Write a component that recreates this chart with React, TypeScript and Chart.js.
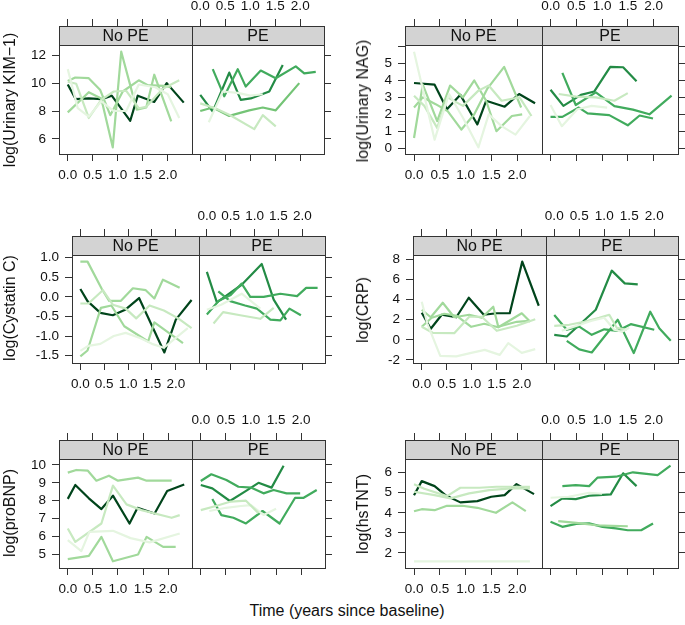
import React, { useEffect, useRef } from "react";
import { Chart, registerables } from "chart.js";

Chart.register(...registerables);

type Pt = [number, number];

// ---------- shared axis data ----------
const X_MIN = -0.175;
const X_MAX = 2.475;
const X_TICKS = [0, 0.5, 1, 1.5, 2];
const X_TICK_LABELS = ["0.0", "0.5", "1.0", "1.5", "2.0"];
const GROUPS = ["No PE", "PE"];
const X_TITLE = "Time (years since baseline)";

// ---------- colours ----------
const G2 = "#E5F5E0";
const G3 = "#C7E9C0";
const G4 = "#A1D99B";
const G5 = "#74C476";
const G6 = "#41AB5D";
const G7 = "#238B45";
const G9 = "#00441B";

// ---------- log(Urinary KIM-1) ----------
const KIM_TICKS = [6, 8, 10, 12];
const KIM_LABELS = ["6", "8", "10", "12"];
const kimNo1: Pt[] = [[0, 11.0], [0.2, 8.2], [0.42, 7.6], [0.67, 8.7], [0.92, 8.0], [1.17, 8.0], [1.42, 9.9], [1.75, 9.7], [2.0, 9.2], [2.23, 7.5]];
const kimNo2: Pt[] = [[0, 10.1], [0.17, 9.95], [0.42, 7.5], [0.67, 8.8], [0.92, 9.4], [1.17, 9.45], [1.42, 8.2], [1.57, 8.3], [1.9, 9.6], [2.23, 10.2]];
const kimNo3: Pt[] = [[0, 10.15], [0.15, 10.4], [0.42, 10.35], [0.65, 9.5], [0.85, 7.7], [1.1, 9.4], [1.42, 10.2], [1.6, 9.85], [1.92, 9.8], [2.07, 9.7]];
const kimNo4: Pt[] = [[0, 7.9], [0.42, 9.35], [0.67, 8.9], [0.9, 5.4], [1.07, 12.25], [1.38, 8.1], [1.57, 8.25], [1.73, 10.6], [2.07, 7.25]];
const kimNo5: Pt[] = [[0, 9.9], [0.16, 8.85], [0.42, 8.9], [0.68, 8.85], [0.88, 9.1], [1.25, 7.3], [1.4, 9.1], [1.73, 8.65], [1.98, 10.0], [2.32, 8.6]];
const kimPe1: Pt[] = [[0.17, 7.2], [0.45, 9.4], [0.75, 9.3], [1.0, 9.1], [1.25, 9.2]];
const kimPe2: Pt[] = [[0, 8.55], [0.3, 8.2], [0.6, 7.7], [1.08, 6.7], [1.25, 7.7], [1.51, 6.9]];
const kimPe3: Pt[] = [[0, 8.0], [0.25, 8.25], [0.58, 7.65], [0.98, 8.05], [1.25, 8.25], [1.51, 8.05], [1.98, 10.0]];
const kimPe4: Pt[] = [[0.25, 11.0], [0.48, 9.05], [0.75, 11.0], [0.91, 9.75], [1.21, 10.9], [1.51, 10.35], [1.91, 11.2], [2.08, 10.7], [2.31, 10.8]];
const kimPe5: Pt[] = [[0, 9.15], [0.25, 7.95], [0.58, 10.75], [0.81, 8.8], [1.01, 8.9], [1.38, 9.4], [1.65, 11.3]];

// ---------- log(Urinary NAG) ----------
const NAG_TICKS = [0, 1, 2, 3, 4, 5, 6];
const NAG_LABELS = ["0", "1", "2", "3", "4", "5", ""];
const nagNo1: Pt[] = [[0, 5.7], [0.4, 0.5], [0.68, 3.2], [0.95, 1.8], [1.25, 0.05], [1.45, 2.0], [1.7, 1.3], [1.97, 0.8], [2.25, 1.9]];
const nagNo2: Pt[] = [[0, 3.1], [0.2, 2.5], [0.45, 1.2], [0.65, 3.0], [0.95, 2.5], [1.25, 3.4], [1.45, 3.7], [1.7, 2.8], [2.05, 3.0], [2.28, 1.9]];
const nagNo3: Pt[] = [[0, 2.4], [0.17, 3.0], [0.42, 2.6], [0.65, 2.2], [0.92, 1.1], [1.17, 2.0], [1.42, 3.5], [1.75, 4.8], [2.08, 2.4]];
const nagNo4: Pt[] = [[0, 0.6], [0.17, 3.75], [0.45, 1.6], [0.7, 3.7], [0.95, 3.0], [1.17, 4.0], [1.4, 2.8], [1.6, 1.0], [1.9, 1.9], [2.1, 2.0]];
const nagNo5: Pt[] = [[0, 3.85], [0.4, 3.75], [0.64, 2.3], [0.9, 3.15], [1.23, 1.4], [1.4, 2.8], [1.76, 2.45], [2.04, 3.2], [2.35, 2.65]];
const nagPe1: Pt[] = [[0, 2.55], [0.22, 1.3], [0.52, 2.3], [0.8, 2.5], [1.1, 2.4]];
const nagPe2: Pt[] = [[0.16, 3.2], [0.5, 3.05], [0.88, 3.0], [1.24, 2.8], [1.5, 3.25]];
const nagPe3: Pt[] = [[0, 1.85], [0.23, 1.85], [0.55, 2.4], [0.72, 2.05], [1.14, 1.95], [1.5, 1.35], [1.73, 1.93], [1.99, 1.75]];
const nagPe4: Pt[] = [[0.23, 4.45], [0.49, 2.55], [0.88, 3.3], [1.24, 2.48], [1.6, 2.28], [1.92, 2.0], [2.35, 3.1]];
const nagPe5: Pt[] = [[0, 3.45], [0.25, 2.5], [0.59, 3.15], [0.85, 3.35], [1.16, 4.8], [1.41, 4.78], [1.67, 3.95]];

// ---------- log(Cystatin C) ----------
const CYS_TICKS = [-1.5, -1, -0.5, 0, 0.5, 1];
const CYS_LABELS = ["-1.5", "-1.0", "-0.5", "0.0", "0.5", "1.0"];
const cysNo1: Pt[] = [[0, -1.38], [0.17, -1.25], [0.42, -1.2], [0.7, -1.0], [0.95, -0.92], [1.25, -1.05], [1.5, -1.2], [1.75, -1.3], [2.0, -1.05], [2.25, -0.8]];
const cysNo2: Pt[] = [[0, -0.17], [0.17, -0.17], [0.47, 0.17], [0.68, -0.2], [0.95, -0.3], [1.17, -0.55], [1.45, -0.22], [1.75, -0.35], [2.05, -0.55], [2.33, -0.8]];
const cysNo3: Pt[] = [[0, -1.52], [0.15, -1.37], [0.43, -0.28], [0.65, -0.22], [0.92, -0.75], [1.42, -1.14], [1.55, -0.65], [2.15, -1.18]];
const cysNo4: Pt[] = [[0, 0.9], [0.15, 0.9], [0.45, 0.2], [0.6, -0.1], [0.85, -0.1], [1.1, 0.22], [1.37, 0.17], [1.55, -0.04], [1.73, 0.44], [2.08, 0.23]];
const cysNo5: Pt[] = [[0, 0.2], [0.15, -0.11], [0.42, -0.41], [0.68, -0.47], [0.95, -0.32], [1.23, -0.03], [1.76, -1.42], [2.0, -0.58], [2.33, -0.08]];
const cysPe1: Pt[] = [[0.14, -0.68], [0.34, -0.39], [0.7, -0.47], [1.12, -0.56], [1.4, -0.28]];
const cysPe2: Pt[] = [[0, -0.33], [0.3, -0.2], [0.73, 0.08], [1.12, -0.3]];
const cysPe3: Pt[] = [[0.24, 0.14], [0.49, -0.11], [0.8, -0.22], [1.05, -0.3], [1.33, -0.58], [1.54, -0.6], [1.73, -0.3], [1.97, -0.47]];
const cysPe4: Pt[] = [[0, -0.45], [0.25, -0.1], [0.5, 0.05], [0.73, 0.34], [0.91, 0.0], [1.19, 0.0], [1.54, 0.08], [1.89, 0.02], [2.08, 0.23], [2.32, 0.23]];
const cysPe5: Pt[] = [[0, 0.64], [0.21, -0.14], [0.73, 0.31], [1.15, 0.84], [1.4, -0.07], [1.66, -0.58]];

// ---------- log(CRP) ----------
const CRP_TICKS = [-2, 0, 2, 4, 6, 8];
const CRP_LABELS = ["-2", "0", "2", "4", "6", "8"];
const crpNo1: Pt[] = [[0, 3.8], [0.11, 1.65], [0.37, -1.6], [0.69, -1.65], [0.99, -1.3], [1.26, -1.0], [1.56, -1.5], [1.73, -0.33], [2.0, -1.3], [2.27, -0.93]];
const crpNo2: Pt[] = [[0, 1.3], [0.22, 0.7], [0.65, 0.66], [0.95, 2.3], [1.2, 2.3], [1.5, 0.9], [1.9, 1.4], [2.27, 2.05]];
const crpNo3: Pt[] = [[0, 1.3], [0.2, 2.2], [0.45, 2.6], [0.7, 2.4], [0.99, 1.3], [1.25, 1.6], [1.53, 1.25], [1.75, 1.9], [2.0, 2.65], [2.17, 1.8]];
const crpNo4: Pt[] = [[0, 3.0], [0.18, 2.25], [0.42, 3.7], [0.65, 2.25], [0.95, 2.5], [1.2, 2.2], [1.43, 3.3], [1.53, 1.3], [1.9, 1.8], [2.15, 1.9]];
const crpNo5: Pt[] = [[0, 2.7], [0.18, 1.1], [0.4, 2.5], [0.69, 2.25], [0.94, 4.2], [1.24, 2.5], [1.5, 2.65], [1.76, 2.65], [2.01, 7.8], [2.34, 3.4]];
const crpPe1: Pt[] = [[0.15, 0.9], [0.45, 1.4], [0.75, 1.9], [1.0, 2.2], [1.2, 1.0], [1.35, 0.8], [1.5, 1.2]];
const crpPe2: Pt[] = [[0, 1.4], [0.3, 1.5], [0.6, 1.8], [0.9, 2.2], [1.1, 2.5], [1.25, 1.2], [1.45, 1.0]];
const crpPe3: Pt[] = [[0.25, -0.1], [0.5, -0.95], [0.75, -1.26], [1.27, 2.0], [1.59, -1.32], [1.92, 2.8], [2.1, 1.16], [2.33, -0.1]];
const crpPe4: Pt[] = [[0, 2.48], [0.25, 1.0], [0.5, 1.32], [0.75, 0.5], [1.0, 1.05], [1.27, 0.9], [1.53, 1.56], [2.0, 1.0]];
const crpPe5: Pt[] = [[0, 0.5], [0.25, 0.33], [0.57, 1.8], [0.83, 3.0], [1.15, 6.9], [1.41, 5.63], [1.67, 5.53]];

// ---------- log(proBNP) ----------
const BNP_TICKS = [5, 6, 7, 8, 9, 10];
const BNP_LABELS = ["5", "6", "7", "8", "9", "10"];
const bnpNo1: Pt[] = [[0, 5.79], [0.27, 5.17], [0.43, 6.25], [0.9, 6.31], [1.25, 5.9], [1.63, 5.66], [2.23, 6.16]];
const bnpNo2: Pt[] = [[0, 6.44], [0.15, 5.69], [0.67, 6.72], [0.9, 8.84], [1.17, 7.79], [1.47, 7.47], [2.07, 7.04], [2.23, 7.19]];
const bnpNo3: Pt[] = [[0, 4.72], [0.42, 4.9], [0.67, 5.97], [0.9, 4.6], [1.4, 4.98], [1.57, 5.97], [1.9, 5.41], [2.15, 5.41]];
const bnpNo4: Pt[] = [[0, 9.57], [0.17, 9.72], [0.4, 9.68], [0.57, 9.12], [0.82, 9.4], [1.0, 9.12], [1.4, 9.29], [1.57, 9.12], [2.07, 9.12]];
const bnpNo5: Pt[] = [[0, 8.1], [0.15, 8.88], [0.42, 8.13], [0.67, 7.53], [0.9, 8.28], [1.23, 6.72], [1.39, 7.6], [1.73, 7.28], [1.98, 8.54], [2.32, 8.91]];
const bnpPe1: Pt[] = [[0, 7.47], [0.3, 7.7], [0.6, 7.95], [0.9, 8.0], [1.15, 7.3]];
const bnpPe2: Pt[] = [[0.17, 7.42], [0.5, 7.6], [0.8, 7.7], [1.0, 7.75], [1.25, 7.2], [1.5, 7.55]];
const bnpPe3: Pt[] = [[0.23, 8.09], [0.41, 7.19], [0.65, 7.04], [0.9, 6.72], [1.23, 7.42], [1.57, 6.72], [1.88, 8.16], [2.05, 8.16], [2.31, 8.6]];
const bnpPe4: Pt[] = [[0, 9.1], [0.21, 9.48], [0.51, 9.16], [0.75, 8.78], [1.01, 8.73], [1.25, 8.41], [1.45, 8.6], [1.71, 8.41], [1.98, 8.41]];
const bnpPe5: Pt[] = [[0, 8.88], [0.23, 8.69], [0.58, 7.98], [0.91, 8.56], [1.15, 9.0], [1.41, 8.73], [1.65, 9.96]];

// ---------- log(hsTNT) ----------
const TNT_TICKS = [2, 3, 4, 5, 6];
const TNT_LABELS = ["2", "3", "4", "5", "6"];
const tntNo1: Pt[] = [[0, 1.58], [0.5, 1.58], [1.0, 1.58], [1.5, 1.58], [2.0, 1.58], [2.25, 1.58]];
const tntNo2: Pt[] = [[0, 5.42], [0.2, 5.2], [0.64, 4.83], [0.9, 5.25], [1.27, 5.25], [1.6, 5.3], [2.25, 5.3]];
const tntNo3: Pt[] = [[0, 5.05], [0.4, 4.88], [0.71, 4.72], [1.07, 4.97], [1.46, 5.13], [1.89, 5.22], [2.25, 5.22]];
const tntNo4: Pt[] = [[0, 4.08], [0.15, 4.18], [0.4, 4.13], [0.64, 4.35], [0.94, 4.35], [1.23, 4.25], [1.59, 4.0], [1.91, 4.52], [2.17, 4.08]];
const tntNo5: Pt[] = [[0, 4.88], [0.15, 5.58], [0.4, 5.33], [0.61, 4.88], [0.9, 4.52], [1.23, 4.58], [1.5, 4.8], [1.76, 4.88], [1.99, 5.43], [2.33, 4.93]];
const tntPe1: Pt[] = [[0, 4.75], [0.35, 4.8], [0.75, 5.0], [1.0, 4.95]];
const tntPe2: Pt[] = [[0.15, 3.58], [0.5, 3.5], [0.88, 3.38], [1.2, 3.35], [1.5, 3.33]];
const tntPe3: Pt[] = [[0, 3.55], [0.23, 3.3], [0.5, 3.45], [0.75, 3.47], [1.01, 3.3], [1.27, 3.22], [1.5, 3.13], [1.76, 3.13], [1.99, 3.47]];
const tntPe4: Pt[] = [[0.23, 5.33], [0.49, 5.38], [0.75, 5.33], [0.91, 5.75], [1.27, 5.8], [1.6, 6.02], [2.08, 5.88], [2.33, 6.35]];
const tntPe5: Pt[] = [[0, 4.33], [0.23, 4.72], [0.49, 4.68], [0.75, 4.85], [0.94, 4.88], [1.17, 4.92], [1.41, 5.97], [1.67, 5.33]];

// ---------- layout / style ----------
const FONT = '"Liberation Sans", Arial, Helvetica, sans-serif';
const FRAME = "#333333";
const STRIP_BG = "#D3D3D3";
const STRIP = 19;
const AX_L = 45;
const AX_R = 7;
const AX_T = 28;
const AX_B = 32;
const TICK_LEN = 7;

type Series = { g: number; color: string; pts: Pt[] };
type PanelDef = {
  title: string;
  yTicks: number[];
  yLabels: string[];
  series: Series[];
  box: { l: number; t: number; r: number; b: number };
  titlePos: { x: number; y: number };
};

const PANELS: PanelDef[] = [
  {
    title: "log(Urinary KIM\u22121)", yTicks: KIM_TICKS, yLabels: KIM_LABELS,
    series: [
      { g: 0, color: G2, pts: kimNo1 }, { g: 0, color: G3, pts: kimNo2 }, { g: 0, color: G4, pts: kimNo3 },
      { g: 0, color: G4, pts: kimNo4 }, { g: 0, color: G9, pts: kimNo5 },
      { g: 1, color: G2, pts: kimPe1 }, { g: 1, color: G3, pts: kimPe2 }, { g: 1, color: G5, pts: kimPe3 },
      { g: 1, color: G6, pts: kimPe4 }, { g: 1, color: G7, pts: kimPe5 },
    ],
    box: { l: 59, t: 26, r: 324, b: 154 }, titlePos: { x: 10, y: 100 },
  },
  {
    title: "log(Urinary NAG)", yTicks: NAG_TICKS, yLabels: NAG_LABELS,
    series: [
      { g: 0, color: G2, pts: nagNo1 }, { g: 0, color: G3, pts: nagNo2 }, { g: 0, color: G4, pts: nagNo3 },
      { g: 0, color: G4, pts: nagNo4 }, { g: 0, color: G9, pts: nagNo5 },
      { g: 1, color: G2, pts: nagPe1 }, { g: 1, color: G3, pts: nagPe2 }, { g: 1, color: G6, pts: nagPe3 },
      { g: 1, color: G6, pts: nagPe4 }, { g: 1, color: G7, pts: nagPe5 },
    ],
    box: { l: 405, t: 26, r: 678, b: 154 }, titlePos: { x: 363, y: 101 },
  },
  {
    title: "log(Cystatin C)", yTicks: CYS_TICKS, yLabels: CYS_LABELS,
    series: [
      { g: 0, color: G2, pts: cysNo1 }, { g: 0, color: G3, pts: cysNo2 }, { g: 0, color: G4, pts: cysNo3 },
      { g: 0, color: G4, pts: cysNo4 }, { g: 0, color: G9, pts: cysNo5 },
      { g: 1, color: G3, pts: cysPe1 }, { g: 1, color: G2, pts: cysPe2 }, { g: 1, color: G6, pts: cysPe3 },
      { g: 1, color: G6, pts: cysPe4 }, { g: 1, color: G7, pts: cysPe5 },
    ],
    box: { l: 72, t: 236, r: 325, b: 363 }, titlePos: { x: 10, y: 308 },
  },
  {
    title: "log(CRP)", yTicks: CRP_TICKS, yLabels: CRP_LABELS,
    series: [
      { g: 0, color: G2, pts: crpNo1 }, { g: 0, color: G3, pts: crpNo2 }, { g: 0, color: G4, pts: crpNo3 },
      { g: 0, color: G4, pts: crpNo4 }, { g: 0, color: G9, pts: crpNo5 },
      { g: 1, color: G2, pts: crpPe1 }, { g: 1, color: G3, pts: crpPe2 }, { g: 1, color: G6, pts: crpPe3 },
      { g: 1, color: G6, pts: crpPe4 }, { g: 1, color: G7, pts: crpPe5 },
    ],
    box: { l: 413, t: 236, r: 678, b: 363 }, titlePos: { x: 363, y: 310 },
  },
  {
    title: "log(proBNP)", yTicks: BNP_TICKS, yLabels: BNP_LABELS,
    series: [
      { g: 0, color: G2, pts: bnpNo1 }, { g: 0, color: G3, pts: bnpNo2 }, { g: 0, color: G4, pts: bnpNo3 },
      { g: 0, color: G4, pts: bnpNo4 }, { g: 0, color: G9, pts: bnpNo5 },
      { g: 1, color: G3, pts: bnpPe1 }, { g: 1, color: G2, pts: bnpPe2 }, { g: 1, color: G6, pts: bnpPe3 },
      { g: 1, color: G6, pts: bnpPe4 }, { g: 1, color: G7, pts: bnpPe5 },
    ],
    box: { l: 59, t: 440, r: 325, b: 568 }, titlePos: { x: 10, y: 513 },
  },
  {
    title: "log(hsTNT)", yTicks: TNT_TICKS, yLabels: TNT_LABELS,
    series: [
      { g: 0, color: G2, pts: tntNo1 }, { g: 0, color: G3, pts: tntNo2 }, { g: 0, color: G3, pts: tntNo3 },
      { g: 0, color: G4, pts: tntNo4 }, { g: 0, color: G9, pts: tntNo5 },
      { g: 1, color: G2, pts: tntPe1 }, { g: 1, color: G4, pts: tntPe2 }, { g: 1, color: G6, pts: tntPe3 },
      { g: 1, color: G6, pts: tntPe4 }, { g: 1, color: G7, pts: tntPe5 },
    ],
    box: { l: 405, t: 440, r: 678, b: 568 }, titlePos: { x: 363, y: 514 },
  },
];

const SPAN = X_MAX - X_MIN;
const X_TICK_VALUES = [...X_TICKS, ...X_TICKS.map((v) => v + SPAN)];

function xLabel(v: number, right: boolean): string {
  const idxL = X_TICKS.findIndex((t) => Math.abs(t - v) < 1e-6);
  const idxR = X_TICKS.findIndex((t) => Math.abs(t + SPAN - v) < 1e-6);
  if (!right && idxL >= 0) return X_TICK_LABELS[idxL];
  if (right && idxR >= 0) return X_TICK_LABELS[idxR];
  return "";
}

const stripPlugin = {
  id: "latticeStrip",
  beforeDraw(chart: any) {
    const { ctx, chartArea } = chart;
    const { left, right, top } = chartArea;
    ctx.save();
    ctx.fillStyle = STRIP_BG;
    ctx.fillRect(left, top, right - left, STRIP);
    ctx.restore();
  },
  afterDraw(chart: any) {
    const { ctx, chartArea } = chart;
    const { left, right, top, bottom } = chartArea;
    const mid = Math.round(chart.scales.x.getPixelForValue(X_MAX));
    ctx.save();
    ctx.strokeStyle = FRAME;
    ctx.lineWidth = 1;
    ctx.beginPath();
    ctx.moveTo(left, top + STRIP + 0.5);
    ctx.lineTo(right, top + STRIP + 0.5);
    ctx.moveTo(mid + 0.5, top);
    ctx.lineTo(mid + 0.5, bottom);
    ctx.stroke();
    ctx.fillStyle = "#111";
    ctx.font = `16px ${FONT}`;
    ctx.textAlign = "center";
    ctx.textBaseline = "middle";
    ctx.fillText(GROUPS[0], (left + mid) / 2, top + STRIP / 2 + 1);
    ctx.fillText(GROUPS[1], (mid + right) / 2, top + STRIP / 2 + 1);
    ctx.restore();
  },
};

function Panel({ p }: { p: PanelDef }) {
  const ref = useRef<HTMLCanvasElement>(null);
  const W = p.box.r - p.box.l + AX_L + AX_R;
  const H = p.box.b - p.box.t + AX_T + AX_B;

  useEffect(() => {
    if (!ref.current) return;
    const ys = p.series.flatMap((s) => s.pts.map((d) => d[1]));
    const lo = Math.min(...ys);
    const hi = Math.max(...ys);
    const rng = hi - lo;
    const yMin = lo - 0.07 * rng;
    const yMaxData = hi + 0.07 * rng;
    const plotH = p.box.b - p.box.t - STRIP;
    const yMax = yMaxData + (STRIP * (yMaxData - yMin)) / plotH;

    const tickFont = { family: FONT, size: 13.5 };
    const gridOpts = { drawOnChartArea: false, drawTicks: true, tickLength: TICK_LEN, color: FRAME, lineWidth: 1 };
    const borderOpts = { display: true, color: FRAME, width: 1 };

    const chart = new Chart(ref.current, {
      type: "line",
      data: {
        datasets: p.series.map((s) => ({
          data: s.pts.map(([x, y]) => ({ x: x + (s.g === 1 ? SPAN : 0), y })),
          borderColor: s.color,
          backgroundColor: s.color,
          borderWidth: 2.2,
          pointRadius: 0,
          pointHoverRadius: 0,
          fill: false,
          tension: 0,
          borderJoinStyle: "round",
        })),
      },
      options: {
        responsive: false,
        animation: false,
        events: [],
        devicePixelRatio: 1,
        layout: { padding: 0, autoPadding: false },
        plugins: { legend: { display: false }, tooltip: { enabled: false }, title: { display: false } },
        scales: {
          x: {
            type: "linear", position: "bottom", bounds: "data", min: X_MIN, max: X_MAX + SPAN,
            afterBuildTicks: (sc: any) => { sc.ticks = X_TICK_VALUES.map((v) => ({ value: v })); },
            afterFit: (sc: any) => { sc.height = AX_B; },
            ticks: { autoSkip: false, maxRotation: 0, minRotation: 0, padding: 6, font: tickFont, color: "#111",
              callback: (v: any) => xLabel(Number(v), false) },
            grid: gridOpts, border: borderOpts,
          },
          x2: {
            type: "linear", position: "top", bounds: "data", min: X_MIN, max: X_MAX + SPAN,
            afterBuildTicks: (sc: any) => { sc.ticks = X_TICK_VALUES.map((v) => ({ value: v })); },
            afterFit: (sc: any) => { sc.height = AX_T; },
            ticks: { autoSkip: false, maxRotation: 0, minRotation: 0, padding: 5, font: tickFont, color: "#111",
              callback: (v: any) => xLabel(Number(v), true) },
            grid: gridOpts, border: borderOpts,
          },
          y: {
            type: "linear", position: "left", bounds: "data", min: yMin, max: yMax,
            afterBuildTicks: (sc: any) => { sc.ticks = p.yTicks.map((v) => ({ value: v })); },
            afterFit: (sc: any) => { sc.width = AX_L; },
            ticks: { autoSkip: false, padding: 6, font: tickFont, color: "#111",
              callback: (_v: any, i: number) => p.yLabels[i] ?? "" },
            grid: gridOpts, border: borderOpts,
          },
          y2: {
            type: "linear", position: "right", bounds: "data", min: yMin, max: yMax,
            afterBuildTicks: (sc: any) => { sc.ticks = p.yTicks.map((v) => ({ value: v })); },
            afterFit: (sc: any) => { sc.width = AX_R; },
            ticks: { autoSkip: false, padding: 0, font: tickFont, color: "#111", callback: () => "" },
            grid: gridOpts, border: borderOpts,
          },
        },
      } as any,
      plugins: [stripPlugin],
    });
    return () => chart.destroy();
  }, [p]);

  return (
    <canvas
      ref={ref}
      width={W}
      height={H}
      style={{ position: "absolute", left: p.box.l - AX_L, top: p.box.t - AX_T, width: W, height: H }}
    />
  );
}

export default function App() {
  return (
    <div style={{ position: "absolute", left: 0, top: 0, width: 685, height: 625, background: "#fff", overflow: "hidden", fontFamily: FONT }}>
      {PANELS.map((p, i) => (
        <React.Fragment key={i}>
          <Panel p={p} />
          <div
            style={{
              position: "absolute", left: p.titlePos.x, top: p.titlePos.y,
              transform: "translate(-50%, -50%) rotate(-90deg)", whiteSpace: "nowrap",
              fontSize: 16, lineHeight: "16px", color: "#111",
            }}
          >
            {p.title}
          </div>
        </React.Fragment>
      ))}
      <div
        style={{
          position: "absolute", left: 347, top: 611, transform: "translate(-50%, -50%)",
          whiteSpace: "nowrap", fontSize: 16, lineHeight: "16px", color: "#111",
        }}
      >
        {X_TITLE}
      </div>
    </div>
  );
}
